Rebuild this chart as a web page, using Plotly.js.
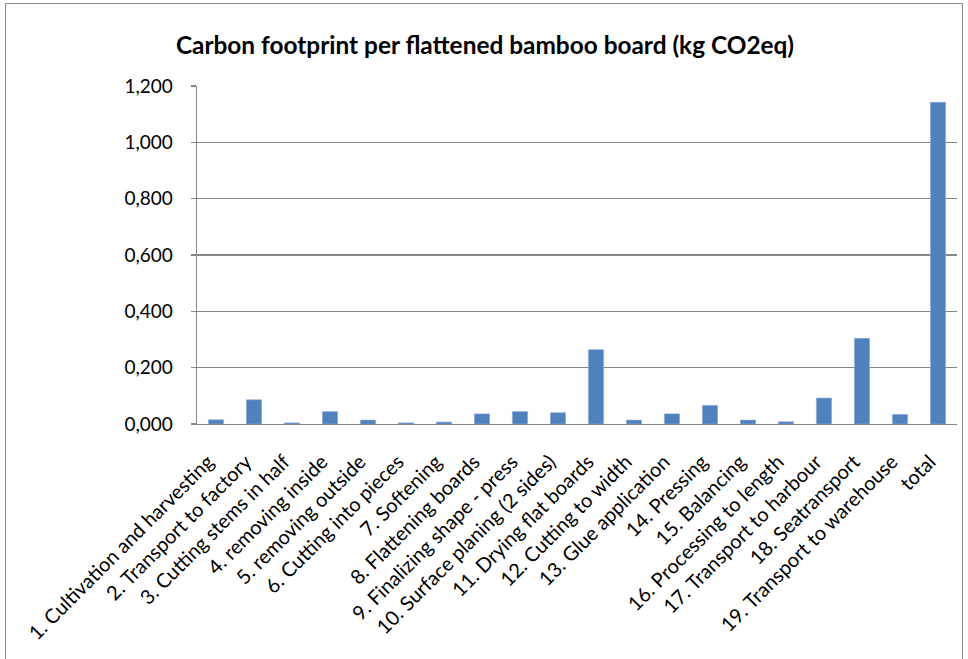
<!DOCTYPE html>
<html>
<head>
<meta charset="utf-8">
<script src="https://cdn.plot.ly/plotly-3.0.1.min.js"></script>
<style>
  html, body { margin: 0; padding: 0; background: #fff; overflow: hidden; }
  #frame { position: absolute; left: 5px; top: 3px; width: 958px; height: 700px; border: 1px solid #8c8c8c; box-sizing: border-box; }
  #chart { position: absolute; left: 0; top: 0; width: 968px; height: 659px; }
</style>
</head>
<body>
<div id="frame"></div>
<div id="chart"></div>
<script>
const categories = [
  "1. Cultivation and harvesting",
  "2. Transport to factory",
  "3. Cutting stems in half",
  "4. removing inside",
  "5. removing outside",
  "6. Cutting into pieces",
  "7. Softening",
  "8. Flattening boards",
  "9. Finalizing shape - press",
  "10. Surface planing (2 sides)",
  "11. Drying flat boards",
  "12. Cutting to width",
  "13. Glue application",
  "14. Pressing",
  "15. Balancing",
  "16. Processing to length",
  "17. Transport to harbour",
  "18. Seatransport",
  "19. Transport to warehouse",
  "total"
];
const values = [
  0.015, 0.086, 0.004, 0.044, 0.014, 0.004, 0.007, 0.036, 0.044, 0.040,
  0.264, 0.014, 0.036, 0.066, 0.014, 0.008, 0.092, 0.304, 0.034, 1.142
];
const yTicks = [0, 0.2, 0.4, 0.6, 0.8, 1.0, 1.2];

const trace = {
  type: "bar",
  x: categories,
  y: values,
  marker: { color: "#4F81BD", line: { color: "#8EADD6", width: 0.6 } },
  hoverinfo: "x+y"
};

const layout = {
  width: 968,
  height: 659,
  paper_bgcolor: "rgba(0,0,0,0)",
  plot_bgcolor: "rgba(0,0,0,0)",
  separators: ",.",
  font: { family: "Lato, 'Open Sans', sans-serif", size: 18, color: "#000" },
  margin: { l: 197, r: 11, t: 86, b: 235, pad: 0 },
  bargap: 0.6,
  showlegend: false,
  title: {
    text: "<b>Carbon footprint per flattened bamboo board (kg CO2eq)</b>",
    font: { family: "Lato, sans-serif", size: 24.4, color: "#000" },
    xref: "container", yref: "container",
    x: 0.501, xanchor: "center",
    y: 1 - 45 / 659, yanchor: "middle"
  },
  xaxis: {
    type: "category",
    tickangle: -45,
    showline: true, linecolor: "#868686", linewidth: 1.3,
    ticks: "", showgrid: false, zeroline: false,
    tickfont: { size: 20 },
    ticklabelstandoff: 17,
    ticklabelshift: -8,
    automargin: false
  },
  yaxis: {
    range: [0, 1.2],
    tickvals: yTicks,
    tickformat: ",.3f",
    showline: true, linecolor: "#868686", linewidth: 1.3,
    ticks: "outside", ticklen: 5, tickcolor: "#868686", tickwidth: 1.3,
    showgrid: true, gridcolor: "#868686", gridwidth: 1.3,
    zeroline: false,
    tickfont: { size: 19 },
    ticklabelstandoff: 14,
    automargin: false
  }
};

Plotly.newPlot("chart", [trace], layout, { displayModeBar: false, staticPlot: true });
</script>
</body>
</html>
